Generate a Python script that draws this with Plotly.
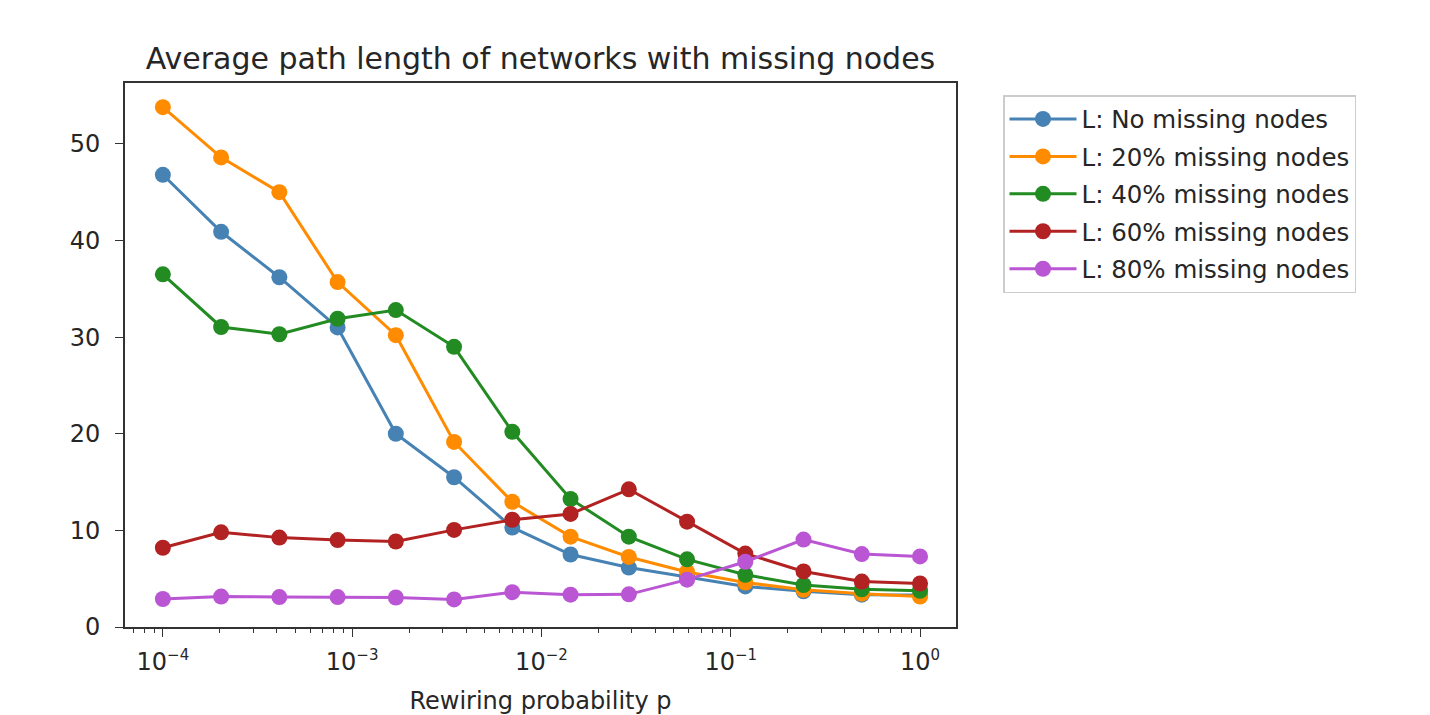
import plotly.graph_objects as go

# Rewiring probabilities (log-spaced)
p_values = [1.0e-4, 2.031e-4, 4.125e-4, 8.377e-4, 1.701e-3, 3.455e-3, 7.017e-3,
            1.425e-2, 2.894e-2, 5.878e-2, 1.194e-1, 2.424e-1, 4.924e-1, 1.0]

L_none = [46.8, 40.9, 36.2, 31.0, 20.0, 15.5, 10.3, 7.5, 6.15, 5.2, 4.2, 3.7, 3.35, 3.3]
L_20 = [53.8, 48.6, 45.0, 35.7, 30.2, 19.15, 12.95, 9.35, 7.25, 5.7, 4.6, 3.85, 3.45, 3.15]
L_40 = [36.5, 31.05, 30.3, 31.9, 32.8, 29.0, 20.2, 13.25, 9.35, 7.0, 5.4, 4.35, 3.9, 3.75]
L_60 = [8.2, 9.8, 9.25, 9.0, 8.85, 10.05, 11.1, 11.7, 14.25, 10.9, 7.6, 5.75, 4.7, 4.5]
L_80 = [2.9, 3.15, 3.1, 3.1, 3.05, 2.85, 3.6, 3.35, 3.38, 4.9, 6.75, 9.05, 7.55, 7.3]

series_names = ["L: No missing nodes", "L: 20% missing nodes", "L: 40% missing nodes",
                "L: 60% missing nodes", "L: 80% missing nodes"]
series_values = [L_none, L_20, L_40, L_60, L_80]
series_colors = ["#4682B4", "#FF8C00", "#228B22", "#B22222", "#BA55D3"]

x_tick_vals = [1e-4, 1e-3, 1e-2, 1e-1, 1]
x_tick_exps = ["−4", "−3", "−2", "−1", "0"]
y_tick_vals = [0, 10, 20, 30, 40, 50]

title_text = "Average path length of networks with missing nodes"
x_title = "Rewiring probability p"

FONT = "DejaVu Sans"
TXT = "#262626"

x_tick_text = ["10<sup><span style='font-size:15px'>%s</span></sup>" % e for e in x_tick_exps]
# minor tick positions: 2..9 within each decade (tick layout, not data)
x_minor_vals = [m * d for d in [1e-5, 1e-4, 1e-3, 1e-2, 1e-1, 1] for m in range(2, 10)]

fig = go.Figure()
for i, (name, vals, col) in enumerate(zip(series_names, series_values, series_colors)):
    fig.add_trace(go.Scatter(
        x=p_values, y=vals, name=name, mode="lines+markers",
        legendgroup="g%d" % i,
        line=dict(color=col, width=3),
        marker=dict(color=col, size=16, symbol="circle", line=dict(width=0)),
    ))

W, H = 1430, 715
L, R, T, B = 125, 956, 83, 627

fig.update_layout(
    width=W, height=H,
    margin=dict(l=L, r=W - R, t=T, b=H - B, autoexpand=False),
    paper_bgcolor="white", plot_bgcolor="white",
    font=dict(family=FONT, size=24, color=TXT),
    title=dict(text=title_text, x=(L + R) / 2 / W, xanchor="center",
               y=1 - 58 / H, yanchor="middle", yref="container",
               font=dict(family=FONT, size=30, color=TXT)),
    showlegend=True,
    legend=dict(x=(1003 - L) / (R - L), y=(B - 95) / (B - T), xanchor="left", yanchor="top",
                bordercolor="#cccccc", borderwidth=1.5, bgcolor="white",
                font=dict(family=FONT, size=24.5, color=TXT),
                itemwidth=67, tracegroupgap=2.6),
)

fig.update_xaxes(
    type="log", range=[-4.2, 0.19],
    tickvals=x_tick_vals, ticktext=x_tick_text,
    showgrid=False, zeroline=False,
    showline=True, mirror=True, linecolor="#333333", linewidth=1.6,
    ticks="outside", ticklen=8, tickwidth=1.3, tickcolor="#333333",
    ticklabelstandoff=4,
    tickfont=dict(family=FONT, size=24, color=TXT),
    minor=dict(tickmode="array", tickvals=x_minor_vals, ticks="outside", ticklen=4.5,
               tickwidth=1, tickcolor="#333333", showgrid=False),
    title=dict(text=x_title, font=dict(family=FONT, size=24, color=TXT), standoff=19),
)
fig.update_yaxes(
    range=[0, 56.3], tickvals=y_tick_vals,
    showgrid=False, zeroline=False,
    showline=True, mirror=True, linecolor="#333333", linewidth=1.6,
    ticks="outside", ticklen=8, tickwidth=1.3, tickcolor="#333333",
    ticklabelstandoff=10,
    tickfont=dict(family=FONT, size=24, color=TXT),
)

fig.write_html("out.html")
